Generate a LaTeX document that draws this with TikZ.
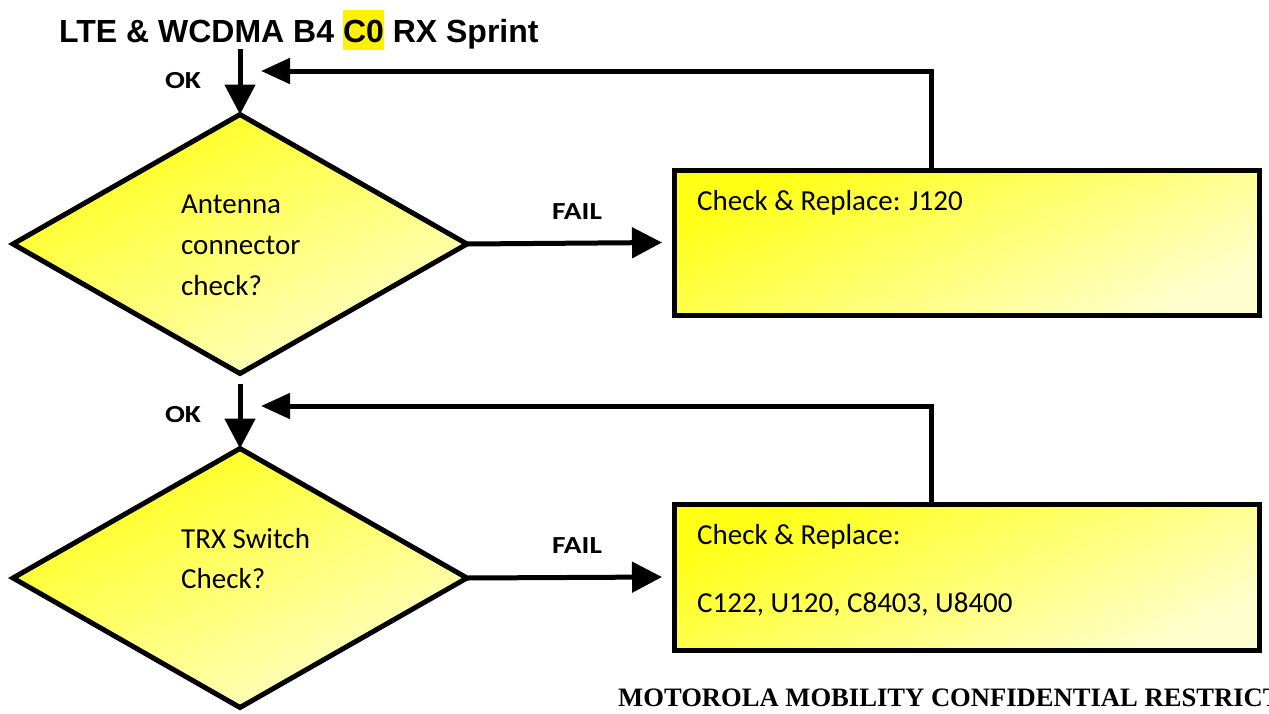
\documentclass[tikz,border=0pt]{standalone}
\usepackage{fontspec}
\setmainfont{Carlito}
\newfontfamily\arialf{Liberation Sans}
\newfontfamily\timesf{Liberation Serif}
\usetikzlibrary{shapes.geometric,arrows.meta}
\definecolor{yl1}{RGB}{255,255,20}
\definecolor{yl2}{RGB}{255,255,205}
\newcommand\hlc[1]{{\setlength\fboxsep{0pt}\colorbox{yellow}{\rule[-8pt]{0pt}{40pt}#1}}}
\newcommand\wide[1]{\scalebox{1.2}[1]{#1}}
\begin{document}
\begin{tikzpicture}[x=1pt,y=-1pt,
  shp/.style={draw=black, line width=5pt, outer sep=0pt, inner sep=0pt,
              top color=yl1, bottom color=yl2, shading angle=25},
  dia/.style={shp, diamond, minimum width=454pt, minimum height=259pt},
  boxn/.style={shp, rectangle, minimum width=585pt, minimum height=145pt},
  arr/.style={line width=5pt, -{Triangle[length=30pt,width=30pt]}},
  farr/.style={line width=5pt, -{Triangle[length=29pt,width=25pt]}},
  lbl/.style={font=\fontsize{24.5}{28}\selectfont\bfseries, inner sep=0pt},
  txt/.style={font=\fontsize{29}{34}\selectfont, inner sep=0pt, anchor=base west},
]
\useasboundingbox (0,0) rectangle (1269,713);
\clip (0,0) rectangle (1269,713);
\fill[white] (0,0) rectangle (1269,713);

\node[anchor=base west, inner sep=0pt, font=\arialf\bfseries\fontsize{32}{38}\selectfont]
  (title) at (59,42) {LTE \& WCDMA B4 \hlc{C0} RX Sprint};

\node[dia] (d1) at (240,244) {};
\node[dia] (d2) at (240,578) {};
\node[boxn] (b1) at (966.5,242.5) {};
\node[boxn, minimum height=146pt] (b2) at (966.5,577) {};

\node[txt] (a1) at (181,213) {Antenna};
\node[txt] (a2) at (181,254) {connector};
\node[txt] (a3) at (181,295) {check?};
\node[txt] (e1) at (181,548) {TRX Switch};
\node[txt] (e2) at (181,588) {Check?};
\node[txt] (r1) at (697,210) {Check \& Replace: J120};
\node[txt] (r2) at (697,544) {Check \& Replace:};
\node[txt] (r3) at (697,612) {C122, U120, C8403, U8400};

\node[lbl] (ok1) at (183,81) {\wide{OK}};
\node[lbl] (ok2) at (183,415) {\wide{OK}};
\node[lbl] (f1) at (577,212) {\wide{FAIL}};
\node[lbl] (f2) at (577,546) {\wide{FAIL}};

\coordinate (s1) at (240,49);
\coordinate (s2) at (240,384);
\draw[arr] (s1) -- (d1.north);
\draw[arr] (s2) -- (d2.north);
\draw[arr] (d1.east) -- ([xshift=-12pt]b1.west);
\draw[arr] (d2.east) -- ([xshift=-12pt]b2.west);

\coordinate (c1) at (931,71);
\coordinate (t1) at (261,71);
\coordinate (c2) at (931,406);
\coordinate (t2) at (261,406);
\draw[farr] (c1 |- b1.north) -- (c1) -- (t1);
\draw[farr] (c2 |- b2.north) -- (c2) -- (t2);

\node[anchor=base west, inner sep=0pt, font=\timesf\bfseries\fontsize{26.6}{30}\selectfont]
  (ft) at (618,706) {MOTOROLA MOBILITY CONFIDENTIAL RESTRICTED};
\end{tikzpicture}
\end{document}
